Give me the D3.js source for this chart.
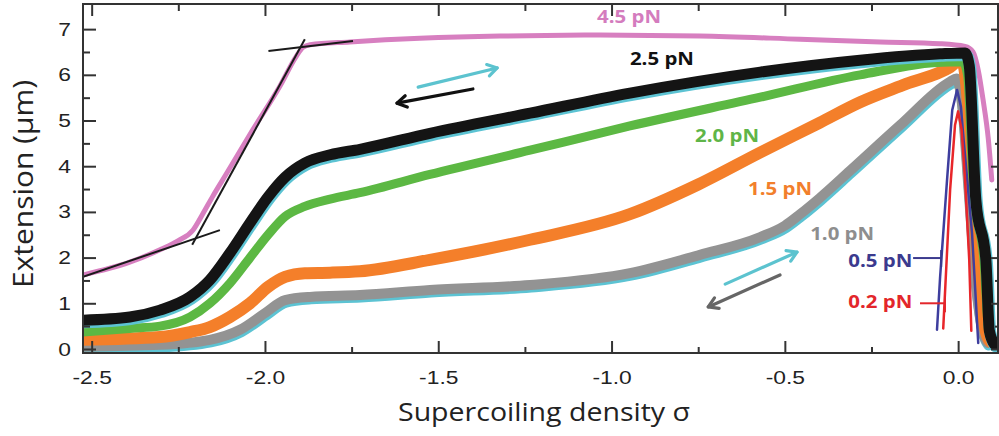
<!DOCTYPE html>
<html><head><meta charset="utf-8">
<script src="https://cdn.jsdelivr.net/npm/d3@7/dist/d3.min.js"></script>
<style>
html,body{margin:0;padding:0;background:#fff;}
svg{display:block;}
</style></head>
<body><svg id="chart" width="999" height="436"></svg>
<script>
// ---------- data (σ, extension in µm) ----------
const sig45 = [-2.525,-2.39,-2.303,-2.25,-2.208,-2.18,-2.15,-2.11,-2.043,-1.957,-1.91,-1.89,-1.87,-1.755,-1.553,-1.322,-1.033,-0.745,-0.456,-0.225,-0.052,0.02,0.043,0.058,0.072,0.087,0.097];
const ext45 = [1.62,1.9,2.17,2.37,2.6,2.95,3.35,3.85,4.7,5.75,6.4,6.6,6.66,6.72,6.8,6.85,6.87,6.85,6.78,6.72,6.68,6.62,6.5,6.1,5.45,4.6,3.7];

const sig25 = [-2.525,-2.39,-2.303,-2.216,-2.159,-2.101,-2.043,-1.991,-1.942,-1.885,-1.812,-1.726,-1.524,-1.235,-0.947,-0.571,-0.283,-0.052,0.02,0.032,0.051,0.080,0.090,0.105];
const ext25 = [0.63,0.7,0.85,1.14,1.51,2.1,2.76,3.33,3.76,4.07,4.25,4.37,4.72,5.16,5.6,6.06,6.32,6.46,6.48,6.2,3.26,1.95,0.4,0.1];

const sig20 = [-2.525,-2.39,-2.303,-2.216,-2.159,-2.101,-2.043,-1.991,-1.942,-1.885,-1.812,-1.726,-1.524,-1.235,-0.947,-0.571,-0.283,-0.023,0.014,0.027,0.045,0.075,0.088,0.100];
const ext20 = [0.37,0.45,0.5,0.7,1.0,1.44,2.0,2.5,2.9,3.12,3.28,3.42,3.82,4.35,4.88,5.51,6.0,6.28,6.28,6.0,3.4,1.9,0.4,0.15];

const sig15 = [-2.525,-2.303,-2.216,-2.159,-2.101,-2.043,-1.991,-1.942,-1.885,-1.812,-1.726,-1.524,-1.235,-0.947,-0.75,-0.571,-0.4,-0.283,-0.15,-0.023,0.006,0.016,0.035,0.058,0.081,0.095,0.115];
const ext15 = [0.2,0.26,0.37,0.48,0.7,1.0,1.36,1.58,1.66,1.67,1.7,1.95,2.39,2.95,3.6,4.3,4.95,5.4,5.8,6.17,6.32,6.2,4.73,1.8,0.35,0.15,0.12];

const sig10 = [-2.525,-2.303,-2.159,-2.072,-1.999,-1.942,-1.87,-1.726,-1.524,-1.235,-0.947,-0.745,-0.571,-0.5,-0.456,-0.4,-0.312,-0.167,-0.023,-0.005,0.012,0.030,0.050,0.070,0.085];
const ext10 = [0.05,0.09,0.2,0.42,0.79,1.07,1.14,1.18,1.29,1.4,1.66,2.06,2.45,2.7,2.95,3.3,3.9,4.9,5.85,5.92,5.3,3.5,1.5,0.4,0.13];

const sig05 = [-0.061,-0.052,-0.032,-0.017,-0.003,0.008,0.014,0.040,0.058];
const ext05 = [0.42,1.58,3.7,5.23,5.67,5.3,4.73,2.54,0.13];

const sig02 = [-0.043,-0.023,-0.009,0.0,0.010,0.020,0.032,0.038];
const ext02 = [0.45,3.5,4.9,5.2,4.8,3.7,1.95,0.4];

// straight-line fits on the 4.5 pN trace: [σ1, ext1, σ2, ext2]
const fitLines = [[-2.525,1.58,-2.13,2.60],[-2.21,2.28,-1.885,6.78],[-1.99,6.52,-1.746,6.74]];

// force labels: text, σ, extension, colour
const forceLabels = [
  ["4.5 pN",-1.042,7.13,"#d47cbe"],
  ["2.5 pN",-0.947,6.21,"#111111"],
  ["2.0 pN",-0.759,4.53,"#5fb548"],
  ["1.5 pN",-0.606,3.37,"#f27f2c"],
  ["1.0 pN",-0.427,2.39,"#8e8e8e"],
  ["0.5 pN",-0.317,1.79,"#3b3a8e"],
  ["0.2 pN",-0.317,0.90,"#e3262b"]
];
// leader lines for the 0.5/0.2 pN labels: σ start, σ end, ext, colour
const leaders = [[-0.130,-0.049,1.99,"#3b3a8e"],[-0.110,-0.038,1.0,"#e3262b"]];
// direction arrows: σ tail, ext tail, σ head, ext head, colour
const arrows = [
  [-1.558,5.73,-1.330,6.15,"#5cc3cf"],
  [-1.400,5.69,-1.619,5.38,"#111111"],
  [-0.672,1.42,-0.465,2.12,"#5cc3cf"],
  [-0.514,1.62,-0.721,0.92,"#666666"]
];

const xMajor = [-2.5,-2.0,-1.5,-1.0,-0.5,0.0];
const xMinor = [-2.25,-1.75,-1.25,-0.75,-0.25];
const yMajor = [0,1,2,3,4,5,6,7];
const yMinor = [0.5,1.5,2.5,3.5,4.5,5.5,6.5];

// ---------- layout ----------
const L = 83, R = 998, T = 4, B = 353;
const svg = d3.select("#chart");
const x = d3.scaleLinear().domain([-2.525, 0.115]).range([L, R]);
const y = d3.scaleLinear().domain([-0.088, 7.55]).range([B, T]);

svg.append("defs").append("clipPath").attr("id","clip")
  .append("rect").attr("x",L).attr("y",T).attr("width",R-L).attr("height",B-T);

const smooth = d3.line().x(d=>x(d[0])).y(d=>y(d[1])).curve(d3.curveMonotoneX);
const straight = d3.line().x(d=>x(d[0])).y(d=>y(d[1]));
const zip = (a,b)=>a.map((v,i)=>[v,b[i]]);

const g = svg.append("g").attr("clip-path","url(#clip)");
function trace(s,e,color,w,gen,dx=0,dy=0){
  g.append("path").datum(zip(s,e)).attr("d",gen)
   .attr("fill","none").attr("stroke",color).attr("stroke-width",w)
   .attr("stroke-linejoin","round").attr("stroke-linecap","round")
   .attr("transform",`translate(${dx},${dy})`);
}
trace(sig45,ext45,"#d77fc0",5,smooth);
trace(sig10,ext10,"#5cc3d3",11,smooth,1,2);
trace(sig10,ext10,"#939393",10,smooth);
trace(sig15,ext15,"#f47f2a",12,smooth);
trace(sig20,ext20,"#5cb843",9,smooth);
trace(sig25,ext25,"#5cc3d3",12,smooth,1,2);
trace(sig25,ext25,"#141414",11,smooth);
trace(sig05,ext05,"#3e3e9e",2.5,straight);
trace(sig02,ext02,"#e8262a",2.5,straight);

fitLines.forEach(f=>{
  g.append("line").attr("x1",x(f[0])).attr("y1",y(f[1])).attr("x2",x(f[2])).attr("y2",y(f[3]))
   .attr("stroke","#1a1a1a").attr("stroke-width",2);
});

// arrows
arrows.forEach(a=>{
  const x1=x(a[0]),y1=y(a[1]),x2=x(a[2]),y2=y(a[3]);
  const ang=Math.atan2(y2-y1,x2-x1), hl=11, ha=0.55;
  svg.append("line").attr("x1",x1).attr("y1",y1).attr("x2",x2).attr("y2",y2)
    .attr("stroke",a[4]).attr("stroke-width",3.2).attr("stroke-linecap","round");
  const p = `M${x2-hl*Math.cos(ang-ha)},${y2-hl*Math.sin(ang-ha)}L${x2},${y2}L${x2-hl*Math.cos(ang+ha)},${y2-hl*Math.sin(ang+ha)}`;
  svg.append("path").attr("d",p).attr("fill","none").attr("stroke",a[4])
    .attr("stroke-width",3.2).attr("stroke-linecap","round").attr("stroke-linejoin","round");
});

// leader lines
leaders.forEach(l=>{
  svg.append("line").attr("x1",x(l[0])).attr("x2",x(l[1])).attr("y1",y(l[2])).attr("y2",y(l[2]))
    .attr("stroke",l[3]).attr("stroke-width",2);
  svg.append("line").attr("x1",x(l[1])).attr("x2",x(l[1])).attr("y1",y(l[2])-8).attr("y2",y(l[2])+9)
    .attr("stroke",l[3]).attr("stroke-width",2);
});

// labels
forceLabels.forEach(f=>{
  svg.append("text").attr("x",x(f[1])).attr("y",y(f[2])).text(f[0])
    .attr("fill",f[3]).attr("font-family","'Open Sans', sans-serif")
    .attr("font-weight","bold").attr("font-size","18px")
    .attr("textLength",64).attr("lengthAdjust","spacingAndGlyphs");
});

// ---------- axes ----------
const axColor = "#333";
function styleAxis(sel){
  sel.select(".domain").remove();
  sel.selectAll("line").attr("stroke",axColor).attr("stroke-width",2);
  sel.selectAll("text").attr("fill","#222").attr("font-family","'Liberation Sans', Arial, sans-serif").attr("font-size","19px")
    .each(function(){ const w=this.getComputedTextLength(); if(w>0){ d3.select(this).attr("textLength",w*1.2).attr("lengthAdjust","spacingAndGlyphs"); } });
}
const fmt = d=>d.toFixed(1);
svg.append("g").attr("transform",`translate(0,${B})`)
  .call(d3.axisBottom(x).tickValues(xMajor).tickSize(-12).tickPadding(18).tickFormat(fmt)).call(styleAxis);
svg.append("g").attr("transform",`translate(0,${B})`)
  .call(d3.axisBottom(x).tickValues(xMinor).tickSize(-6).tickFormat("")).call(styleAxis);
svg.append("g").attr("transform",`translate(0,${T})`)
  .call(d3.axisTop(x).tickValues(xMajor).tickSize(-12).tickFormat("")).call(styleAxis);
svg.append("g").attr("transform",`translate(0,${T})`)
  .call(d3.axisTop(x).tickValues(xMinor).tickSize(-7).tickFormat("")).call(styleAxis);
svg.append("g").attr("transform",`translate(${L},0)`)
  .call(d3.axisLeft(y).tickValues(yMajor).tickSize(-13).tickPadding(12).tickFormat(d3.format("d"))).call(styleAxis);
svg.append("g").attr("transform",`translate(${L},0)`)
  .call(d3.axisLeft(y).tickValues(yMinor).tickSize(-7).tickFormat("")).call(styleAxis);
svg.append("g").attr("transform",`translate(${R},0)`)
  .call(d3.axisRight(y).tickValues(yMajor).tickSize(-7).tickFormat("")).call(styleAxis);
svg.append("g").attr("transform",`translate(${R},0)`)
  .call(d3.axisRight(y).tickValues(yMinor).tickSize(-3).tickFormat("")).call(styleAxis);

svg.append("rect").attr("x",L).attr("y",T).attr("width",R-L).attr("height",B-T)
  .attr("fill","none").attr("stroke",axColor).attr("stroke-width",2);

// titles
svg.append("text").attr("x",544).attr("y",421).attr("text-anchor","middle")
  .attr("font-family","'Open Sans', sans-serif").attr("font-size","26px").attr("fill","#222")
  .attr("textLength",292).attr("lengthAdjust","spacingAndGlyphs")
  .text("Supercoiling density σ");
svg.append("text").attr("transform","translate(33,184) rotate(-90)").attr("text-anchor","middle")
  .attr("font-family","'Open Sans', sans-serif").attr("font-size","28px").attr("fill","#222")
  .attr("textLength",208).attr("lengthAdjust","spacingAndGlyphs")
  .text("Extension (µm)");
</script></body></html>
